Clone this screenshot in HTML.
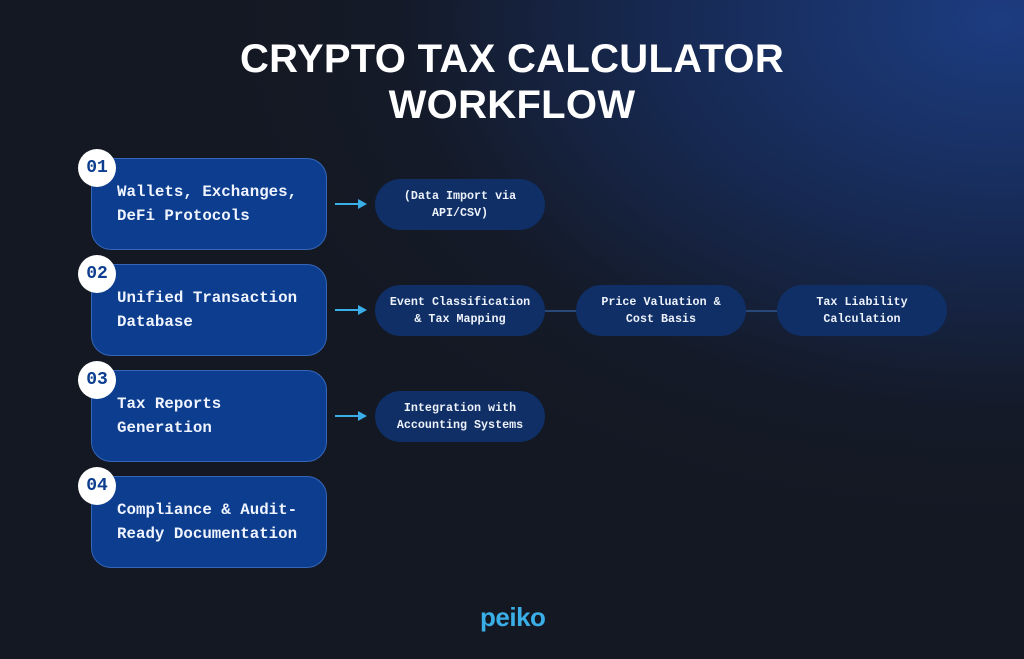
<!DOCTYPE html>
<html><head><meta charset="utf-8"><style>
body{margin:0;width:1024px;height:659px;overflow:hidden;font-family:"Liberation Sans",sans-serif;
background:radial-gradient(ellipse 800px 520px at 1000px 20px,#1c3c80 0%,#172a55 40%,#141a28 75%,#141822 100%),#141822;position:relative}
.t{position:absolute;left:0;width:1024px;text-align:center;color:#fff;font-weight:bold;font-size:40px;letter-spacing:0.3px}
.box{position:absolute;left:91px;width:236px;height:92px;border:1px solid #3566b8;border-radius:20px;background:#0c3d8e;color:#f0f4ff;font-family:"Liberation Mono",monospace;font-size:15.8px;line-height:24px;box-sizing:border-box;padding:21px 0 0 25px;font-weight:bold}
.num{position:absolute;left:78px;width:38px;height:38px;border-radius:50%;background:#fff;color:#0c3d8e;font-family:"Liberation Mono",monospace;font-weight:bold;font-size:18px;text-align:center;line-height:38px}
.pill{position:absolute;width:170px;height:51px;border-radius:26px;background:#0f2f66;color:#eef2fa;font-family:"Liberation Mono",monospace;font-size:11.7px;line-height:17px;text-align:center;display:flex;align-items:center;justify-content:center;font-weight:bold}
.ar{position:absolute;left:335px;width:24px;height:2px;background:#3aaee6}
.ar:after{content:"";position:absolute;right:-8px;top:-4px;border-left:9px solid #3aaee6;border-top:5px solid transparent;border-bottom:5px solid transparent}
.ln{position:absolute;height:2px;background:#28487a;width:31px;top:310px}
</style></head><body>
<div class="t" style="top:37px">CRYPTO TAX CALCULATOR</div>
<div class="t" style="top:83px">WORKFLOW</div>

<div class="box" style="top:158px">Wallets, Exchanges,<br>DeFi Protocols</div>
<div class="box" style="top:264px">Unified Transaction<br>Database</div>
<div class="box" style="top:370px">Tax Reports<br>Generation</div>
<div class="box" style="top:476px">Compliance &amp; Audit-<br>Ready Documentation</div>
<div class="num" style="top:149px">01</div>
<div class="num" style="top:255px">02</div>
<div class="num" style="top:361px">03</div>
<div class="num" style="top:467px">04</div>

<div class="ar" style="top:203px"></div>
<div class="ar" style="top:309px"></div>
<div class="ar" style="top:415px"></div>

<div class="pill" style="left:375px;top:179px">(Data Import via<br>API/CSV)</div>
<div class="pill" style="left:375px;top:285px">Event Classification<br>&amp; Tax Mapping</div>
<div class="pill" style="left:576px;top:285px">Price Valuation &amp;<br>Cost Basis</div>
<div class="pill" style="left:777px;top:285px">Tax Liability<br>Calculation</div>
<div class="pill" style="left:375px;top:391px">Integration with<br>Accounting Systems</div>
<div class="ln" style="left:545px"></div>
<div class="ln" style="left:746px"></div>

<div style="position:absolute;left:480px;top:602px;color:#3aaee6;font-size:26px;font-weight:bold;letter-spacing:-0.5px">peiko</div>
</body></html>
